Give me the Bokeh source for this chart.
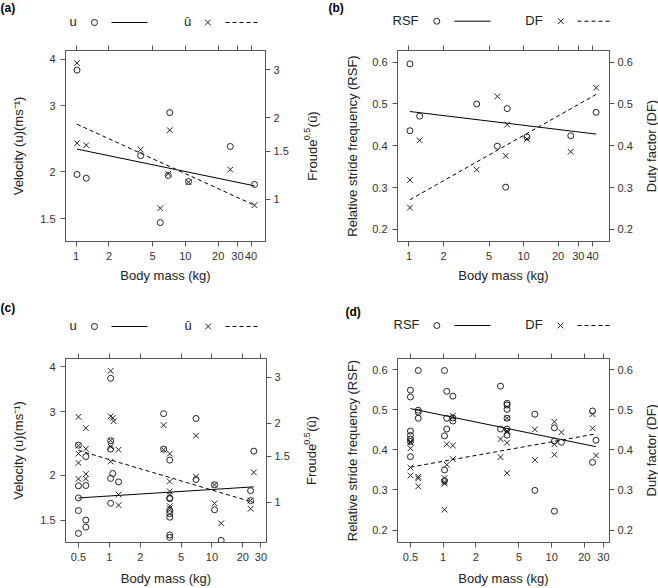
import math
from bokeh.plotting import figure
from bokeh.models import (Range1d, LogAxis, LinearAxis, FixedTicker, NumeralTickFormatter,
                          CustomJSTickFormatter, LogScale)
from bokeh.layouts import column, row
from bokeh.core.properties import value
from bokeh.embed import file_html
from bokeh.resources import INLINE

FONT = "Liberation Sans"
INK = "#222222"
FRAME = "#555555"

# ---------------- data: panels (a) and (b) (ten species) ----------------
mass_ab = [1.02, 1.02, 1.24, 3.9, 5.9, 6.98, 7.2, 10.7, 25.8, 43.0]
u_a = [3.74, 1.967, 1.923, 2.21, 1.463, 1.955, 2.88, 1.884, 2.337, 1.85]
uhat_a = [3.176, 1.609, 1.582, 1.524, 0.926, 1.24, 1.797, 1.155, 1.286, 0.95]
rsf_b = [0.596, 0.436, 0.471, 0.500, 0.399, 0.301, 0.489, 0.421, 0.424, 0.480]
df_b = [0.318, 0.252, 0.413, 0.343, 0.518, 0.376, 0.451, 0.416, 0.386, 0.539]

fit_mass_ab = [1.02, 43.0]
fit_u_a = [2.30, 1.834]
fit_uhat_a = [1.89, 0.95]
fit_rsf_b = [0.482, 0.428]
fit_df_b = [0.271, 0.523]

# ---------------- data: panel (c) ----------------
mass_c_u = [0.5, 0.5, 0.5, 0.5, 0.5,
            0.59, 0.59, 0.59, 0.59,
            1.03, 1.03, 1.03, 1.08, 1.03, 1.03,
            1.23, 1.23,
            3.38, 3.38,
            3.88, 3.88, 3.88, 3.88, 3.88, 3.88, 3.88, 3.88,
            7.0, 7.0,
            10.6, 10.6,
            12.3,
            25.6, 23.8, 23.8]
u_c = [2.42, 1.867, 1.728, 1.594, 1.378,
       2.25, 1.871, 1.5, 1.434,
       3.71, 2.49, 2.36, 2.02, 1.957, 1.67,
       1.915, 1.27,
       2.96, 2.36,
       2.20, 1.728, 1.72, 1.595, 1.563, 1.528, 1.364, 1.343,
       2.87, 1.944,
       1.88, 1.602,
       1.318,
       2.33, 1.81, 1.699]
mass_c_uhat = [0.5, 0.5, 0.5, 0.5, 0.5,
               0.59, 0.59, 0.59, 0.59,
               1.03, 1.03, 1.08, 1.1, 1.03, 1.03, 1.03,
               1.23, 1.23, 1.23,
               3.38, 3.38,
               3.88, 3.88, 3.88, 3.88, 3.88, 3.88,
               7.0, 7.0,
               10.6, 10.6,
               12.3,
               25.6, 23.8, 23.8]
uhat_c = [2.12, 1.647, 1.533, 1.413, 1.227,
          1.92, 1.60, 1.282, 1.23,
          3.18, 2.13, 2.10, 2.04, 1.72, 1.63, 1.43,
          1.587, 1.069, 0.974,
          1.97, 1.587,
          1.533, 1.20, 1.10, 1.069, 0.966, 0.947,
          1.796, 1.252,
          1.165, 0.989,
          0.83,
          1.30, 1.015, 0.944]
fit_mass_cd = [0.5, 25.6]
fit_u_c = [1.728, 1.855]
fit_uhat_c = [1.578, 0.997]

# ---------------- data: panel (d) ----------------
mass_d_rsf = [0.5, 0.5, 0.5, 0.5, 0.5, 0.5, 0.5,
              0.59, 0.59, 0.59, 0.59,
              1.03, 1.03, 1.03, 1.03,
              1.08, 1.08, 1.08,
              1.23, 1.23, 1.23,
              3.38, 3.38,
              3.88, 3.88, 3.88, 3.88, 3.88, 3.88,
              7.0, 7.0,
              10.6, 10.6, 10.6,
              12.3,
              23.8, 23.8,
              25.6]
rsf_d = [0.549, 0.532, 0.447, 0.436, 0.427, 0.421, 0.383,
         0.598, 0.499, 0.494, 0.479,
         0.598, 0.435, 0.350, 0.323,
         0.546, 0.479, 0.452,
         0.534, 0.480, 0.472,
         0.559, 0.452,
         0.516, 0.512, 0.501, 0.479, 0.452, 0.437,
         0.489, 0.299,
         0.455, 0.422, 0.247,
         0.419,
         0.497, 0.369,
         0.424]
mass_d_df = [0.5, 0.5, 0.5, 0.5, 0.5,
             0.59, 0.59, 0.59,
             1.03, 1.03, 1.03, 1.03,
             1.08, 1.08,
             1.23, 1.23, 1.23,
             3.38, 3.38,
             3.88, 3.88, 3.88, 3.88, 3.88,
             7.0, 7.0,
             10.6, 10.6, 10.6,
             12.3,
             23.8, 23.8,
             25.6]
df_d = [0.421, 0.418, 0.404, 0.356, 0.336,
        0.333, 0.329, 0.309,
        0.330, 0.320, 0.316, 0.251,
        0.414, 0.363,
        0.485, 0.411, 0.377,
        0.427, 0.382,
        0.479, 0.447, 0.444, 0.418, 0.342,
        0.451, 0.375,
        0.470, 0.414, 0.388,
        0.444,
        0.489, 0.454,
        0.386]
fit_rsf_d = [0.503, 0.408]
fit_df_d = [0.357, 0.440]

# ---------------- ticks ----------------
mass_ticks_ab = [1, 2, 5, 10, 20, 30, 40]
mass_ticks_cd = [0.5, 1, 2, 5, 10, 20, 30]
u_ticks = [1.5, 2, 3, 4]
froude_ticks = [1, 1.5, 2, 3]
freq_ticks = [0.2, 0.3, 0.4, 0.5, 0.6]

CIRCLE = dict(marker="circle", size=6, fill_color=None, line_color=INK, line_width=1)
CROSS = dict(marker="x", size=8, line_color=INK, line_width=1)


def style_axis(ax, ticks, standoff=5):
    ax.ticker = FixedTicker(ticks=ticks, minor_ticks=[])
    ax.formatter = NumeralTickFormatter(format="0.[0]")
    ax.axis_line_color = FRAME
    ax.major_tick_line_color = FRAME
    ax.major_tick_out = 5
    ax.major_tick_in = 0
    ax.minor_tick_line_color = None
    ax.major_label_text_font = FONT
    ax.major_label_text_font_size = "11px"
    ax.major_label_text_color = "#333333"
    ax.major_label_standoff = standoff
    ax.axis_label_text_font = FONT
    ax.axis_label_text_font_size = "13px"
    ax.axis_label_text_font_style = "normal"
    ax.axis_label_text_color = INK


def make_panel(W, H, bl, br, bt, bb, xr, yl, log_y, xticks, yticks, yr_right=None, rticks=None):
    p = figure(width=W, height=H, x_axis_type="log",
               y_axis_type="log" if log_y else "linear",
               x_range=Range1d(*xr), y_range=Range1d(*yl),
               output_backend="svg", toolbar_location=None,
               min_border_left=bl, min_border_right=br,
               min_border_top=bt, min_border_bottom=bb)
    p.grid.visible = False
    p.outline_line_color = FRAME
    p.background_fill_color = "white"
    p.border_fill_color = "white"
    bottom = p.below[0]
    left = p.left[0]
    style_axis(bottom, xticks, standoff=5)
    style_axis(left, yticks, standoff=5)
    top = LogAxis()
    style_axis(top, xticks, standoff=0)
    top.formatter = CustomJSTickFormatter(code="return ''")
    top.major_label_text_font_size = "0px"
    p.add_layout(top, "above")
    if yr_right is not None:
        p.extra_y_ranges = {"right": Range1d(*yr_right)}
        p.extra_y_scales = {"right": LogScale()}
        ra = LogAxis(y_range_name="right")
        style_axis(ra, rticks, standoff=3)
    else:
        ra = LinearAxis()
        style_axis(ra, yticks, standoff=3)
    p.add_layout(ra, "right")
    return p, bottom, left


def make_side(W, H, bt, bb, cx, parts, gap=0.5):
    """Narrow strip to the right of a panel holding its rotated right-axis title."""
    fh = H - bt - bb
    s = figure(width=W, height=H, x_range=Range1d(0, W), y_range=Range1d(0, fh),
               x_axis_type=None, y_axis_type=None, output_backend="svg",
               toolbar_location=None, min_border_left=0, min_border_right=0,
               min_border_top=bt, min_border_bottom=bb)
    s.outline_line_color = None
    s.background_fill_color = "white"
    s.border_fill_color = "white"
    total = sum(pw for _, _, _, pw in parts) + gap * (len(parts) - 1)
    pos = fh / 2 - total / 2
    for text, size, rise, pw in parts:
        s.text([cx - rise], [pos], text=[text], angle=math.pi / 2,
               text_font=value(FONT), text_font_size=f"{size}px",
               text_align="left", text_baseline="middle", text_color=INK)
        pos += pw + gap
    return s


def make_key(W, H, tags, rows):
    k = figure(width=W, height=H, x_range=Range1d(0, W), y_range=Range1d(H, 0),
               x_axis_type=None, y_axis_type=None, output_backend="svg",
               toolbar_location=None, min_border=0)
    k.outline_line_color = None
    k.background_fill_color = "white"
    k.border_fill_color = "white"
    for tag, tx, ty in tags:
        k.text([tx], [ty], text=[tag], text_font=value(FONT), text_font_size="12px",
               text_font_style="bold", text_align="left", text_baseline="top",
               text_color="black")
    for row_y, entries in rows:
        for name, tx, marker, mx, x0, x1, dash in entries:
            k.text([tx], [row_y - 1], text=[name], text_font=value(FONT),
                   text_font_size="13px", text_align="center", text_baseline="middle",
                   text_color=INK)
            k.scatter([mx], [row_y], **(CIRCLE if marker == "circle" else CROSS))
            k.line([x0, x1], [row_y, row_y], line_color="black", line_width=1, line_dash=dash)
    return k


FROUDE_PARTS = [("Froude", 13, 0, 40.0), ("0.5", 9, 5, 12.5), ("(û)", 13, 0, 15.9)]
DF_PARTS = [("Duty factor (DF)", 13, 0, 92.5)]

# ---------------- panel (a) ----------------
pa, ba, la = make_panel(291, 246, 65, 26, 6, 49, (0.80, 54.2), (1.302, 4.22), True,
                        mass_ticks_ab, u_ticks, (0.698, 3.535), froude_ticks)
la.axis_label = "Velocity (u)(ms⁻¹)"
la.axis_label_standoff = 11
ba.axis_label = "Body mass (kg)"
ba.axis_label_standoff = 5
pa.line(fit_mass_ab, fit_u_a, line_color="black", line_width=1)
pa.line(fit_mass_ab, fit_uhat_a, line_color="black", line_width=1, line_dash="4 3",
        y_range_name="right")
pa.scatter(mass_ab, u_a, **CIRCLE)
pa.scatter(mass_ab, uhat_a, y_range_name="right", **CROSS)
side_a = make_side(38, 246, 6, 49, 20.5, FROUDE_PARTS)

# ---------------- panel (b) ----------------
pb, bb_, lb = make_panel(306, 246, 68, 25, 6, 49, (0.794, 56.2), (0.171, 0.628), False,
                         mass_ticks_ab, freq_ticks)
lb.axis_label = "Relative stride frequency (RSF)"
lb.axis_label_standoff = 9
bb_.axis_label = "Body mass (kg)"
bb_.axis_label_standoff = 5
pb.line(fit_mass_ab, fit_rsf_b, line_color="black", line_width=1)
pb.line(fit_mass_ab, fit_df_b, line_color="black", line_width=1, line_dash="4 3")
pb.scatter(mass_ab, rsf_b, **CIRCLE)
pb.scatter(mass_ab, df_b, **CROSS)
side_b = make_side(23, 246, 6, 49, 16, DF_PARTS)

# ---------------- panel (c) ----------------
pc, bc, lc = make_panel(292, 236, 65, 26, 6, 45, (0.374, 34.0), (1.300, 4.21), True,
                        mass_ticks_cd, u_ticks, (0.701, 3.544), froude_ticks)
lc.axis_label = "Velocity (u)(ms⁻¹)"
lc.axis_label_standoff = 11
bc.axis_label = "Body mass (kg)"
bc.axis_label_standoff = 7
pc.line(fit_mass_cd, fit_u_c, line_color="black", line_width=1)
pc.line(fit_mass_cd, fit_uhat_c, line_color="black", line_width=1, line_dash="4 3",
        y_range_name="right")
pc.scatter(mass_c_u, u_c, **CIRCLE)
pc.scatter(mass_c_uhat, uhat_c, y_range_name="right", **CROSS)
side_c = make_side(37, 236, 6, 45, 19, FROUDE_PARTS)

# ---------------- panel (d) ----------------
pd_, bd, ld = make_panel(306, 236, 68, 25, 6, 45, (0.38, 34.1), (0.169, 0.628), False,
                         mass_ticks_cd, freq_ticks)
ld.axis_label = "Relative stride frequency (RSF)"
ld.axis_label_standoff = 9
bd.axis_label = "Body mass (kg)"
bd.axis_label_standoff = 7
pd_.line(fit_mass_cd, fit_rsf_d, line_color="black", line_width=1)
pd_.line(fit_mass_cd, fit_df_d, line_color="black", line_width=1, line_dash="4 3")
pd_.scatter(mass_d_rsf, rsf_d, **CIRCLE)
pd_.scatter(mass_d_df, df_d, **CROSS)
side_d = make_side(23, 236, 6, 45, 15.5, DF_PARTS)

# ---------------- keys ----------------
key_top = make_key(658, 44,
                   [("(a)", 0, 0), ("(b)", 328, 0)],
                   [(22, [("u", 72.5, "circle", 94, 111, 147, "solid"),
                          ("û", 187, "x", 207.3, 225, 259, "4 3")]),
                    (20.7, [("RSF", 405, "circle", 436.3, 454, 490, "solid"),
                            ("DF", 533.5, "x", 560.3, 577, 612, "4 3")])])
key_bot = make_key(658, 62,
                   [("(c)", 0, 10), ("(d)", 345, 14)],
                   [(36, [("u", 72.7, "circle", 94, 111, 147, "solid"),
                          ("û", 187.7, "x", 207.7, 225, 259, "4 3")]),
                    (35, [("RSF", 406, "circle", 436.3, 454, 490, "solid"),
                          ("DF", 533.5, "x", 560, 577, 612, "4 3")])])

layout = column(key_top, row(pa, side_a, pb, side_b), key_bot, row(pc, side_c, pd_, side_d))

open("out.html", "w").write(file_html(layout, INLINE))
